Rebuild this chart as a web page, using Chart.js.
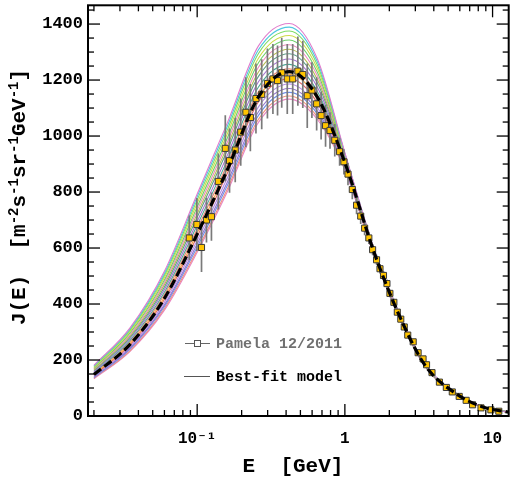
<!DOCTYPE html>
<html><head><meta charset="utf-8">
<script src="https://cdn.jsdelivr.net/npm/chart.js@4/dist/chart.umd.min.js"></script>
<style>html,body{margin:0;padding:0;background:#fff;}#wrap{width:514px;height:480px;}</style>
</head><body><div id="wrap"><canvas id="c" width="514" height="480"></canvas></div>
<script>
// ---------- data ----------
const gridE = [0.02, 0.035, 0.06, 0.1, 0.16, 0.26, 0.42, 0.65, 1.0, 1.6, 2.4, 3.5, 5.5, 8.5, 13];
const bestFit = [148, 255, 420, 650, 880, 1140, 1230, 1140, 905, 575, 345, 180, 84, 33, 13];
const model01 = [181,314,517,793,1047,1322,1402,1277,941,587,352,184,86,34,13];
const model02 = [179,310,510,783,1035,1308,1389,1266,938,586,351,184,86,34,13];
const model03 = [176,306,503,772,1022,1295,1375,1255,935,585,351,183,86,34,13];
const model04 = [173,301,495,760,1008,1278,1359,1242,931,583,350,183,85,34,13];
const model05 = [170,296,486,747,993,1262,1343,1229,927,582,349,182,85,34,13];
const model06 = [168,290,478,735,978,1246,1326,1216,923,581,348,182,85,33,13];
const model07 = [165,285,470,722,963,1229,1310,1203,920,579,347,181,85,33,13];
const model08 = [162,280,461,710,949,1213,1294,1190,916,578,346,181,84,33,13];
const model09 = [158,275,452,695,931,1194,1275,1175,911,576,345,180,84,33,13];
const model10 = [155,269,442,681,914,1175,1256,1160,907,575,344,180,84,33,13];
const model11 = [152,264,434,668,899,1158,1240,1147,903,573,344,179,84,33,13];
const model12 = [149,258,424,654,882,1139,1221,1132,899,572,343,179,83,33,13];
const model13 = [146,253,416,641,867,1123,1205,1119,895,570,342,178,83,32,13];
const model14 = [143,247,406,627,850,1104,1186,1103,891,569,341,178,83,32,13];
const model15 = [140,242,397,614,835,1087,1170,1090,887,567,340,177,83,32,13];
const model16 = [137,238,391,604,823,1074,1156,1080,884,566,339,177,82,32,13];
const model17 = [135,233,384,593,811,1060,1143,1069,881,565,339,176,82,32,13];
const model18 = [133,230,378,585,801,1049,1132,1060,878,564,338,176,82,32,13];
const modelSeries = [model01,model02,model03,model04,model05,model06,model07,model08,model09,
                     model10,model11,model12,model13,model14,model15,model16,model17,model18];
const modelColors = ['#e07ccc','#4fc8e0','#7edc62','#cddc48','#6fcf6a','#ec8cbc','#b4bc50','#5f9e88',
                     '#a672d0','#4fa896','#ee8a72','#f2a444','#e06666','#b48ce6','#9474cc','#6f8ee8','#f0907a','#e884c4'];

const pamelaE = [0.0884,0.0995,0.107,0.1156,0.1249,0.139,0.155,0.1656,0.181,0.1972,0.2137,0.2291,0.25,0.2735,
  0.299,0.3257,0.35,0.3737,0.4074,0.4434,0.4804,0.5189,0.5563,0.598,0.644,0.6904,0.74,0.793,0.8543,0.9215,
  0.985,1.05,1.123,1.20,1.28,1.361,1.453,1.541,1.639,1.729,1.826,1.927,2.018,2.147,2.265,2.391,2.524,2.665,
  2.901,3.133,3.384,3.573,3.89,4.366,4.864,5.336,5.944,6.625,7.32,8.35,9.74,11.02];
const pamelaJ = [636,684,602,700,712,838,956,912,950,1014,1085,1066,1134,1149,
  1188,1204,1198,1226,1204,1204,1232,1220,1144,1164,1115,1073,1037,1020,985,944,
  908,864,809,753,714,671,636,594,558,526,502,473,438,406,371,346,318,289,
  265,226,204,183,155,121,102,86,70,56,40,29,22,17];
const pamelaErr = [80,95,88,80,86,100,118,115,115,120,125,120,125,125,
  125,125,125,125,125,125,124,120,115,100,95,85,75,65,58,50,
  45,40,35,32,28,25,22,20,18,17,16,15,14,13,12,12,11,10,
  10,9,9,8,8,7,7,6,6,5,5,5,4,4];

const yTickValues = [0,200,400,600,800,1000,1200,1400];
const xTickValues = [0.1, 1, 10];
const xTickLabels = ['10\u207B\u00B9', '1', '10'];

// ---------- build datasets ----------
const MONO = '"Liberation Mono", "Courier New", monospace';
const datasets = [];
datasets.push({
  label:'Best-fit model', data: gridE.map((e,i)=>({x:e,y:bestFit[i]})),
  borderColor:'#000', borderWidth:3.2, borderDash:[9,4], pointRadius:0,
  cubicInterpolationMode:'monotone', fill:false, order:0
});
datasets.push({
  label:'Pamela 12/2011', data: pamelaE.map((e,i)=>({x:e,y:pamelaJ[i]})),
  showLine:false, pointStyle:'rect', pointRadius:4.3, pointBackgroundColor:'#ffc400',
  pointBorderColor:'#3a3a3a', pointBorderWidth:1, order:1
});
const errData = [];
pamelaE.forEach((e,i)=>{
  errData.push({x:e,y:pamelaJ[i]-pamelaErr[i]});
  errData.push({x:e,y:pamelaJ[i]+pamelaErr[i]});
  errData.push({x:e,y:null});
});
datasets.push({
  label:'err', data: errData, borderColor:'#7a7a7a', borderWidth:1.7,
  pointRadius:0, spanGaps:false, fill:false, order:2
});
modelSeries.forEach((s,k)=>{
  datasets.push({
    label:'m'+k, data: gridE.map((e,i)=>({x:e,y:s[i]})),
    borderColor: modelColors[k], borderWidth:1.1, pointRadius:0,
    cubicInterpolationMode:'monotone', fill:false, order:3+k
  });
});

// ---------- decorations ----------
function seg(ctx,x1,y1,x2,y2){ctx.beginPath();ctx.moveTo(x1,y1);ctx.lineTo(x2,y2);ctx.stroke();}
const decor = {
  id:'decor',
  afterDraw(chart){
    const {ctx, chartArea:a, scales:{x,y}} = chart;
    ctx.save();
    ctx.strokeStyle='#000'; ctx.lineWidth=1.3;
    for(let v=0; v<=y.max; v+=50){
      const py=y.getPixelForValue(v); const L=(v%200===0)?12:6;
      seg(ctx,a.left,py,a.left+L,py); seg(ctx,a.right,py,a.right-L,py);
    }
    for(let d=-2; d<=1; d++) for(let m=1;m<=9;m++){
      const v=m*Math.pow(10,d); if(v<x.min||v>x.max) continue;
      const px=x.getPixelForValue(v); const L=(m===1)?12:6;
      seg(ctx,px,a.bottom,px,a.bottom-L); seg(ctx,px,a.top,px,a.top+L);
    }
    ctx.lineWidth=2; ctx.strokeRect(a.left,a.top,a.right-a.left,a.bottom-a.top);

    // y title
    const parts=[['J(E)  [m',0],['-2',1],['s',0],['-1',1],['sr',0],['-1',1],['GeV',0],['-1',1],[']',0]];
    const big='bold 21px '+MONO, small='bold 14px '+MONO;
    let total=0; parts.forEach(p=>{ctx.font=p[1]?small:big; total+=ctx.measureText(p[0]).width;});
    ctx.save(); ctx.translate(25,197); ctx.rotate(-Math.PI/2);
    ctx.fillStyle='#000'; ctx.textBaseline='alphabetic'; ctx.textAlign='left';
    let cx=-total/2;
    parts.forEach(p=>{ctx.font=p[1]?small:big; ctx.fillText(p[0],cx,p[1]?-7:0); cx+=ctx.measureText(p[0]).width;});
    ctx.restore();

    // x title
    ctx.font='bold 21px '+MONO; ctx.fillStyle='#000'; ctx.textAlign='center'; ctx.textBaseline='middle';
    ctx.fillText('E  [GeV]', 293, 467);

    // legend
    ctx.textAlign='left'; ctx.font='bold 15px '+MONO;
    ctx.strokeStyle='#666'; ctx.lineWidth=1;
    seg(ctx,185,343.5,210,343.5);
    ctx.fillStyle='#fff'; ctx.fillRect(194.5,340.5,6,6); ctx.strokeStyle='#555'; ctx.strokeRect(194.5,340.5,6,6);
    ctx.fillStyle='#707070'; ctx.fillText('Pamela 12/2011',216,344);
    ctx.strokeStyle='#555'; seg(ctx,184,376.5,210,376.5);
    ctx.fillStyle='#000'; ctx.fillText('Best-fit model',216,377);
    ctx.restore();
  }
};

new Chart(document.getElementById('c'), {
  type:'line',
  data:{datasets},
  options:{
    responsive:false, animation:false,
    layout:{padding:{top:1,right:1,left:0,bottom:0}},
    plugins:{legend:{display:false}, tooltip:{enabled:false}},
    scales:{
      x:{type:'logarithmic', min:0.01823, max:12.86,
        grid:{display:false, drawTicks:false}, border:{display:false},
        afterBuildTicks:(s)=>{ s.ticks = xTickValues.map(v=>({value:v})); },
        afterFit:(s)=>{ s.height=64; s.paddingLeft=0; s.paddingRight=0; },
        ticks:{autoSkip:false, maxRotation:0, padding:13, color:'#000',
          font:{family:MONO, size:16, weight:'bold'},
          callback:(v,i)=>xTickLabels[i]}
      },
      y:{type:'linear', min:0, max:1467,
        grid:{display:false, drawTicks:false}, border:{display:false},
        afterBuildTicks:(s)=>{ s.ticks = yTickValues.map(v=>({value:v})); },
        afterFit:(s)=>{ s.width=88; s.paddingTop=0; s.paddingBottom=0; },
        ticks:{padding:5, color:'#000', font:{family:MONO, size:17, weight:'bold'},
          callback:(v)=>String(v)}
      }
    }
  },
  plugins:[decor]
});
</script></body></html>
